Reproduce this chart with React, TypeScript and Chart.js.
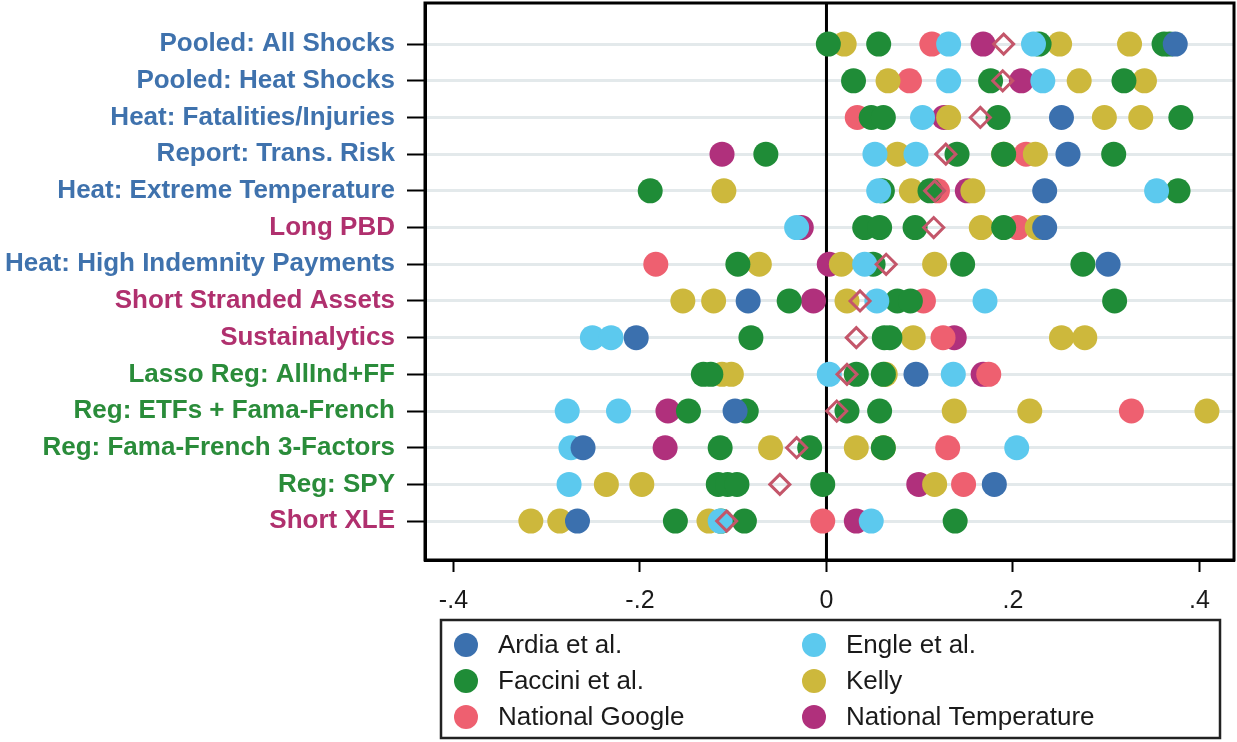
import React, { useEffect, useRef } from "react";
import { Chart, registerables } from "chart.js";

Chart.register(...registerables);

const rowLabels = [
  "Pooled: All Shocks",
  "Pooled: Heat Shocks",
  "Heat: Fatalities/Injuries",
  "Report: Trans. Risk",
  "Heat: Extreme Temperature",
  "Long PBD",
  "Heat: High Indemnity Payments",
  "Short Stranded Assets",
  "Sustainalytics",
  "Lasso Reg: AllInd+FF",
  "Reg: ETFs + Fama-French",
  "Reg: Fama-French 3-Factors",
  "Reg: SPY",
  "Short XLE",
];

const BLUE_LBL = "#3f72ad";
const MAG_LBL = "#b0306e";
const GRN_LBL = "#2a8c3a";
const rowLabelColors = [
  BLUE_LBL, BLUE_LBL, BLUE_LBL, BLUE_LBL, BLUE_LBL,
  MAG_LBL, BLUE_LBL, MAG_LBL, MAG_LBL,
  GRN_LBL, GRN_LBL, GRN_LBL, GRN_LBL, MAG_LBL,
];

const xTicks = [-0.4, -0.2, 0, 0.2, 0.4];
const xTickLabels = ["-.4", "-.2", "0", ".2", ".4"];

// one inner array per row (top to bottom)
const ardia = [
  [0.374], [], [0.252], [0.259], [0.234], [0.234], [0.302],
  [-0.084], [-0.204], [0.096], [-0.098], [-0.261], [0.18], [-0.267],
];
const engle = [
  [0.131, 0.222], [0.131, 0.232], [0.103], [0.052, 0.096], [0.056, 0.354],
  [-0.032], [0.041], [0.054, 0.17], [-0.251, -0.231], [0.003, 0.136],
  [-0.278, -0.223], [-0.274, 0.204], [-0.276], [-0.114, 0.048],
];
const faccini = [
  [0.002, 0.056, 0.228, 0.362, 0.368],
  [0.029, 0.176, 0.319],
  [0.048, 0.061, 0.184, 0.38],
  [-0.065, 0.14, 0.19, 0.308],
  [-0.189, 0.06, 0.111, 0.377],
  [0.041, 0.057, 0.095, 0.19],
  [-0.095, 0.05, 0.146, 0.275],
  [-0.04, 0.076, 0.09, 0.309],
  [-0.081, 0.062, 0.068],
  [-0.132, -0.124, 0.032, 0.061],
  [-0.148, -0.086, 0.022, 0.057],
  [-0.114, -0.018, 0.061],
  [-0.116, -0.106, -0.096, -0.004],
  [-0.162, -0.113, -0.088, 0.138],
];
const kelly = [
  [0.019, 0.25, 0.325],
  [0.066, 0.271, 0.341],
  [0.131, 0.298, 0.337],
  [0.076, 0.19, 0.224],
  [-0.11, 0.091, 0.157],
  [0.166, 0.226],
  [-0.072, 0.016, 0.116],
  [-0.154, -0.121, 0.022],
  [0.093, 0.252, 0.277],
  [-0.112, -0.102, 0.063],
  [0.137, 0.218, 0.408],
  [-0.06, 0.032, 0.061],
  [-0.236, -0.198, 0.116],
  [-0.317, -0.286, -0.126],
];
const nationalGoogle = [
  [0.113], [0.089], [0.033], [0.214], [0.119], [0.205], [-0.183],
  [0.104], [0.125], [0.174], [0.327], [0.13], [0.147], [-0.004],
];
const nationalTemperature = [
  [0.168], [0.209], [0.126], [-0.112], [0.151], [-0.027], [0.003],
  [-0.014], [0.137], [0.168], [-0.17], [-0.173], [0.099], [0.032],
];
const averages = [
  0.19, 0.189, 0.165, 0.128, 0.116, 0.115, 0.064,
  0.036, 0.032, 0.022, 0.011, -0.032, -0.05, -0.107,
];

const seriesNames = [
  "Ardia et al.", "Engle et al.", "Faccini et al.", "Kelly",
  "National Google", "National Temperature",
];
const seriesColors = ["#3b70ae", "#5cc9ee", "#1f8c37", "#cdb83c", "#ee6070", "#b0307c"];
const seriesData = [ardia, engle, faccini, kelly, nationalGoogle, nationalTemperature];

const FONT = "Arial, 'Liberation Sans', sans-serif";

const toPoints = (rows: number[][]) =>
  rows.flatMap((vals, i) => vals.map((x) => ({ x, y: i + 1 })));

const framePlugin = {
  id: "frame",
  beforeDatasetsDraw(chart: any) {
    const { ctx, chartArea, scales } = chart;
    const x0 = scales.x.getPixelForValue(0);
    ctx.save();
    ctx.strokeStyle = "#000";
    ctx.lineWidth = 3;
    ctx.beginPath();
    ctx.moveTo(x0, chartArea.top);
    ctx.lineTo(x0, chartArea.bottom);
    ctx.stroke();
    ctx.restore();
  },
  afterDatasetsDraw(chart: any) {
    const { ctx, chartArea } = chart;
    ctx.save();
    ctx.strokeStyle = "#000";
    ctx.lineWidth = 3;
    ctx.strokeRect(chartArea.left, chartArea.top, chartArea.right - chartArea.left, chartArea.bottom - chartArea.top);
    ctx.restore();
  },
};

const legendPlugin = {
  id: "customLegend",
  afterDraw(chart: any) {
    const { ctx } = chart;
    const boxL = 441, boxT = 620, boxR = 1220, boxB = 738;
    ctx.save();
    ctx.fillStyle = "#fff";
    ctx.fillRect(boxL, boxT, boxR - boxL, boxB - boxT);
    ctx.strokeStyle = "#222";
    ctx.lineWidth = 2.5;
    ctx.strokeRect(boxL, boxT, boxR - boxL, boxB - boxT);
    const colX = [466, 814];
    const rowY = [645, 681, 717];
    ctx.font = `26px ${FONT}`;
    ctx.textBaseline = "middle";
    ctx.textAlign = "left";
    seriesNames.forEach((name, i) => {
      const cx = colX[i % 2];
      const cy = rowY[Math.floor(i / 2)];
      ctx.fillStyle = seriesColors[i];
      ctx.beginPath();
      ctx.arc(cx, cy, 12, 0, Math.PI * 2);
      ctx.fill();
      ctx.fillStyle = "#1a1a1a";
      ctx.fillText(name, cx + 32, cy + 1);
    });
    ctx.restore();
  },
};

export default function App() {
  const ref = useRef<HTMLCanvasElement>(null);
  useEffect(() => {
    document.body.style.margin = "0";
    const datasets: any[] = [
      {
        label: "Average",
        data: averages.map((x, i) => ({ x, y: i + 1 })),
        pointStyle: "rectRot",
        pointRadius: 10,
        pointBorderWidth: 3,
        pointBorderColor: "#c4566a",
        pointBackgroundColor: "rgba(0,0,0,0)",
        showLine: false,
      },
      ...seriesNames.map((name, i) => ({
        label: name,
        data: toPoints(seriesData[i]),
        pointStyle: "circle",
        pointRadius: 12.5,
        pointBorderWidth: 0,
        pointBackgroundColor: seriesColors[i],
        pointBorderColor: seriesColors[i],
        showLine: false,
      })),
    ];
    const chart = new Chart(ref.current!, {
      type: "scatter",
      data: { datasets },
      options: {
        animation: false,
        responsive: false,
        maintainAspectRatio: false,
        layout: { autoPadding: false, padding: { left: 0, top: 3, right: 3, bottom: 132 } },
        plugins: { legend: { display: false }, tooltip: { enabled: false } },
        scales: {
          x: {
            type: "linear",
            min: -0.4305,
            max: 0.437,
            afterBuildTicks: (s: any) => {
              s.ticks = xTicks.map((v) => ({ value: v }));
            },
            afterFit: (s: any) => {
              s.height = 50;
              s.paddingLeft = 0;
              s.paddingRight = 0;
            },
            ticks: {
              callback: (v: any) => {
                const i = xTicks.findIndex((t) => Math.abs(t - v) < 1e-9);
                return i >= 0 ? xTickLabels[i] : "";
              },
              font: { family: FONT, size: 25 },
              color: "#1a1a1a",
              padding: 14,
              maxRotation: 0,
            },
            grid: {
              drawOnChartArea: false,
              drawTicks: true,
              tickLength: 12,
              tickWidth: 2,
              tickColor: "#000",
            },
            border: { display: true, color: "#000", width: 3 },
          },
          y: {
            type: "linear",
            reverse: true,
            min: -0.12,
            max: 15.06,
            afterBuildTicks: (s: any) => {
              s.ticks = rowLabels.map((_, i) => ({ value: i + 1 }));
            },
            afterFit: (s: any) => {
              s.width = 425;
              s.paddingTop = 0;
              s.paddingBottom = 0;
            },
            ticks: {
              callback: (v: any) => rowLabels[Math.round(v) - 1] ?? "",
              font: { family: FONT, size: 26, weight: "bold" },
              color: (c: any) => rowLabelColors[c.index] ?? "#000",
              padding: 12,
            },
            grid: {
              color: "#e3e9eb",
              lineWidth: 3,
              drawTicks: true,
              tickLength: 18,
              tickWidth: 2,
              tickColor: "#000",
            },
            border: { display: true, color: "#000", width: 3 },
          },
        },
      },
      plugins: [framePlugin, legendPlugin],
    });
    return () => chart.destroy();
  }, []);
  return <canvas ref={ref} width={1237} height={742} style={{ display: "block" }} />;
}
